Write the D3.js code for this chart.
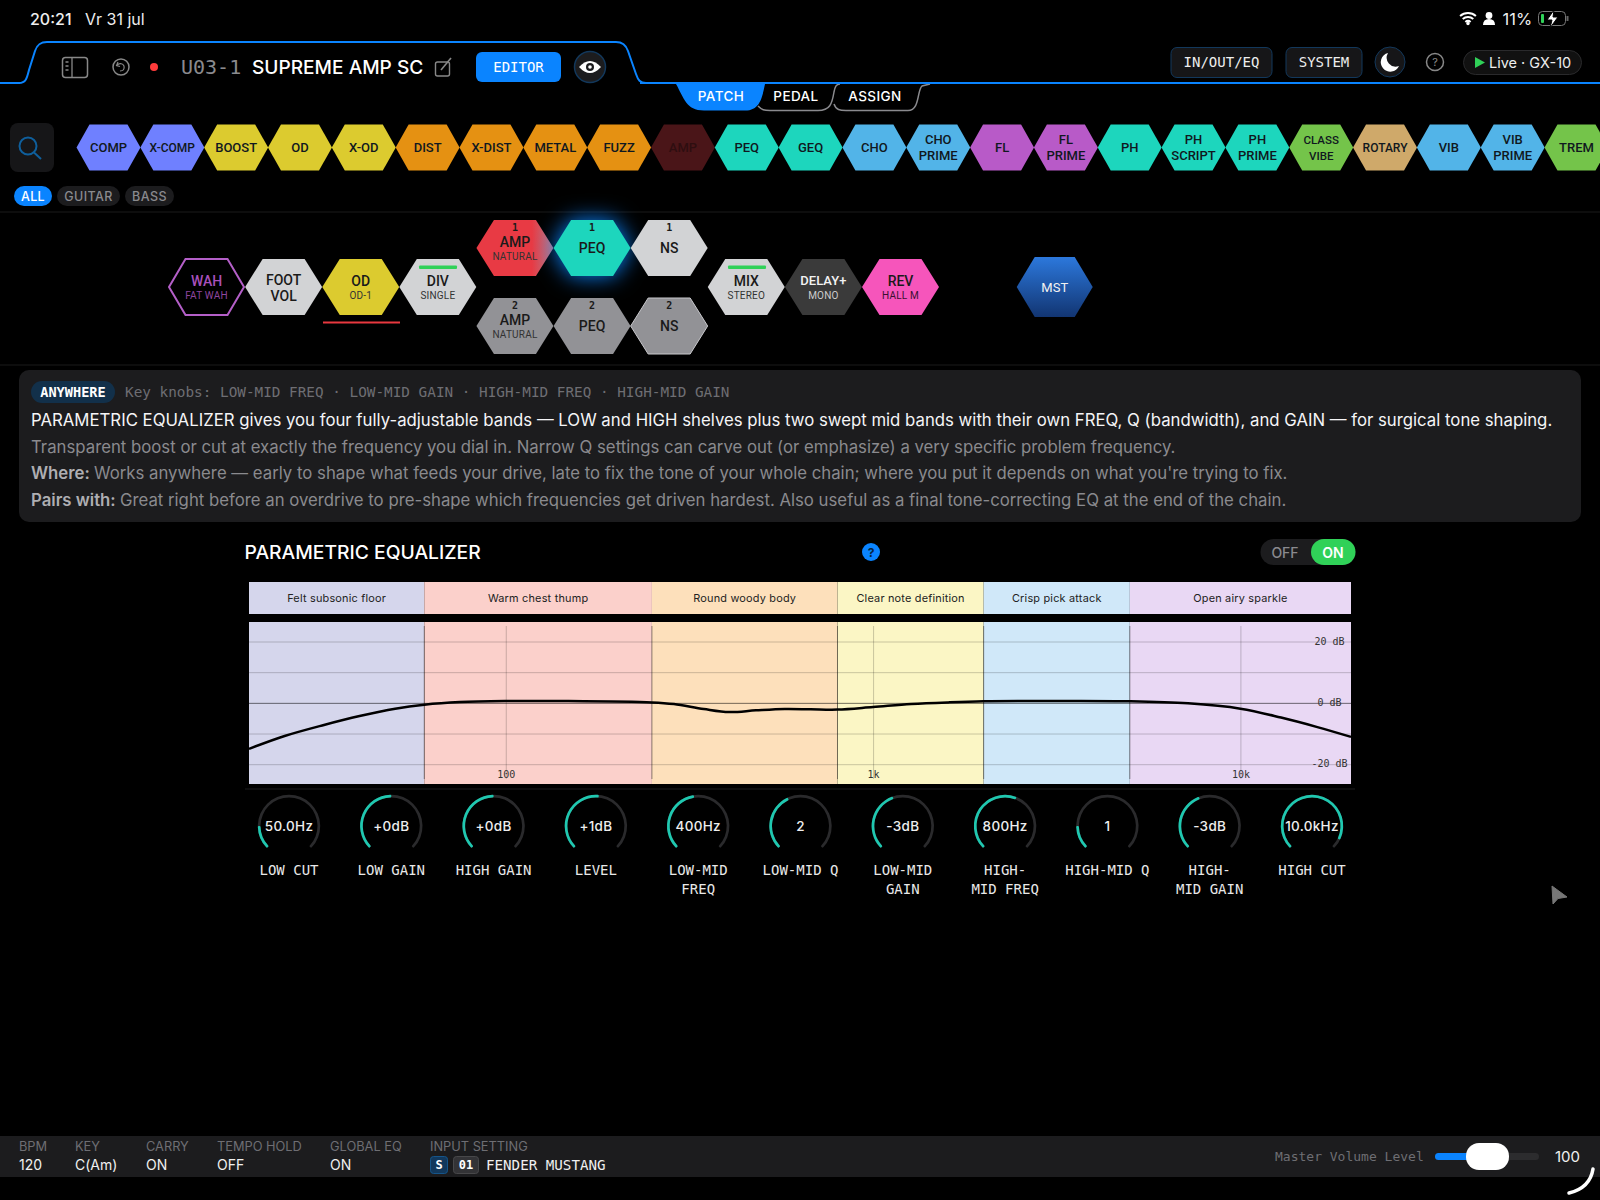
<!DOCTYPE html>
<html>
<head>
<meta charset="utf-8">
<title>Parametric equalizer</title>
<script src="https://d3js.org/d3.v7.min.js"></script>
<style>
    html, body { margin: 0; background: #000; }
    svg { display: block; }
    text { font-family: Inter, sans-serif; dominant-baseline: central; }
    .mono { font-family: "DejaVu Sans Mono", monospace; }
    .hex { font-family: Roboto, sans-serif; font-weight: 500; }
    .eq-axis path { display: none; }
    .eq-axis line { stroke: #000; stroke-opacity: 0.2; }
    .eq-axis text { font-family: "DejaVu Sans Mono", monospace; font-size: 10px; fill: #333; }
</style>
</head>
<body>
<svg id="app" width="1600" height="1200"></svg>
<script>
// module palette
const paletteNames = ["COMP","X-COMP","BOOST","OD","X-OD","DIST","X-DIST","METAL","FUZZ","AMP","PEQ","GEQ","CHO","CHO PRIME","FL","FL PRIME","PH","PH SCRIPT","PH PRIME","CLASS VIBE","ROTARY","VIB","VIB PRIME","TREM"];
const paletteColors = ["#6f80ff","#6f80ff","#dccb2f","#dccb2f","#dccb2f","#e59112","#e59112","#e59112","#e59112","#4a1518","#1dd6bd","#1dd6bd","#52b4e8","#52b4e8","#b85ac8","#b85ac8","#1dd6bd","#1dd6bd","#1dd6bd","#74c44a","#cfa96a","#52b4e8","#52b4e8","#74c44a"];

// signal chain
const chainNames = ["WAH","FOOT VOL","OD","DIV","AMP","PEQ","NS","AMP","PEQ","NS","MIX","DELAY+","REV","MST"];
const chainSubs = ["FAT WAH","","OD-1","SINGLE","NATURAL","","","NATURAL","","","STEREO","MONO","HALL M",""];
const chainNums = ["","","","","1","1","1","2","2","2","","","",""];
const chainSlots = [0,1,2,3,4,5,6,4,5,6,7,8,9,11];
const chainRows = [0,0,0,0,-1,-1,-1,1,1,1,0,0,0,0];
const chainFills = ["none","#d2d3d5","#dccb2f","#d2d3d5","url(#ampFade)","#1dd6bd","#d2d3d5","#929296","#929296","#929296","#d2d3d5","#3a3a3a","#f655bb","url(#mstFade)"];

// info panel
const infoKnobs = "Key knobs: LOW-MID FREQ · LOW-MID GAIN · HIGH-MID FREQ · HIGH-MID GAIN";
const infoLead = "PARAMETRIC EQUALIZER gives you four fully-adjustable bands — LOW and HIGH shelves plus two swept mid bands with their own FREQ, Q (bandwidth), and GAIN — for surgical tone shaping.";
const infoBody = "Transparent boost or cut at exactly the frequency you dial in. Narrow Q settings can carve out (or emphasize) a very specific problem frequency.";
const infoWhere = "Works anywhere — early to shape what feeds your drive, late to fix the tone of your whole chain; where you put it depends on what you're trying to fix.";
const infoPairs = "Great right before an overdrive to pre-shape which frequencies get driven hardest. Also useful as a final tone-correcting EQ at the end of the chain.";

// EQ chart
const bandNames = ["Felt subsonic floor","Warm chest thump","Round woody body","Clear note definition","Crisp pick attack","Open airy sparkle"];
const bandEdges = [20,60,250,800,2000,5000,20000];
const bandColors = ["#d5d6ec","#fbd0cb","#fde0bb","#fbf6c5","#d0e8f9","#e9d8f4"];
const curveFreq = [20,25,32,40,50,60,75,100,143,250,287,346,406,480,575,676,800,1000,1270,1600,2000,3200,5000,7200,10000,12900,16200,20000];
const curveDb = [-15,-10.8,-7.2,-4.3,-1.9,-0.6,0.26,0.6,0.6,0.15,-0.4,-2,-3,-2.45,-2,-2.1,-2.2,-1.37,-0.4,0.15,0.5,0.6,0.5,-0.17,-1.9,-4.8,-7.9,-11.1];
const freqTicks = [100,1000,10000];
const freqTickLabels = ["100","1k","10k"];
const dbTicks = [20,10,0,-10,-20];
const dbTickLabels = ["20 dB","","0 dB","","-20 dB"];

// knobs
const knobValues = ["50.0Hz","+0dB","+0dB","+1dB","400Hz","2","-3dB","800Hz","1","-3dB","10.0kHz"];
const knobLabels = [["LOW CUT"],["LOW GAIN"],["HIGH GAIN"],["LEVEL"],["LOW-MID","FREQ"],["LOW-MID Q"],["LOW-MID","GAIN"],["HIGH-","MID FREQ"],["HIGH-MID Q"],["HIGH-","MID GAIN"],["HIGH CUT"]];
const knobPositions = [0.167,0.5,0.5,0.52,0.47,0.41,0.43,0.58,0.167,0.425,0.93];

// footer
const footerLabels = ["BPM","KEY","CARRY","TEMPO HOLD","GLOBAL EQ"];
const footerValues = ["120","C(Am)","ON","OFF","ON"];
const footerX = [19,75,146,217,330];

const svg = d3.select("#app");
const BLUE = "#0a84ff";

const defs = svg.append("defs");
const ampFade = defs.append("linearGradient").attr("id", "ampFade");
ampFade.append("stop").attr("offset", "72%").attr("stop-color", "#e83a44");
ampFade.append("stop").attr("offset", "100%").attr("stop-color", "#b87a88");
const mstFade = defs.append("linearGradient").attr("id", "mstFade").attr("x2", 0).attr("y2", 1);
mstFade.append("stop").attr("offset", "0%").attr("stop-color", "#2c78dc");
mstFade.append("stop").attr("offset", "100%").attr("stop-color", "#123572");

function txt(parent, x, y, s, o) {
    o = o || {};
    return parent.append("text").attr("x", x).attr("y", y).text(s)
        .attr("class", o.cls || null)
        .attr("text-anchor", o.anchor || "start")
        .attr("fill", o.fill || "#fff")
        .attr("font-size", o.size || 14)
        .attr("font-weight", o.weight || 400)
        .attr("letter-spacing", o.ls || null);
}
function box(parent, x, y, w, h, r, fill, stroke) {
    return parent.append("rect").attr("x", x).attr("y", y).attr("width", w).attr("height", h)
        .attr("rx", r).attr("fill", fill).attr("stroke", stroke || "none");
}
// flat topped hexagon, w/h are the full size, top is half the flat edge
function hexPoints(w, h, top) {
    return [[-w/2,0],[-top,-h/2],[top,-h/2],[w/2,0],[top,h/2],[-top,h/2]].join(" ");
}

// ---- status bar
txt(svg, 30, 19, "20:21", {size: 16, weight: 500, fill: "#eee"});
txt(svg, 85, 19, "Vr 31 jul", {size: 16, fill: "#eee"});
txt(svg, 1502.5, 19, "11%", {size: 16.5, fill: "#eee"});
const wifi = svg.append("g").attr("transform", "translate(1468,25)");
[13, 9, 5].forEach(r => wifi.append("path")
    .attr("d", d3.arc()({innerRadius: r - 2, outerRadius: r, startAngle: -0.72, endAngle: 0.72}))
    .attr("fill", "#fff"));
wifi.append("circle").attr("cy", -1.5).attr("r", 1.7).attr("fill", "#fff");
svg.append("circle").attr("cx", 1489).attr("cy", 15.5).attr("r", 3.4).attr("fill", "#fff");
svg.append("path").attr("d", "M1483 25 q0 -6 6 -6 q6 0 6 6 z").attr("fill", "#fff");
box(svg, 1538.5, 11.5, 27, 14, 4, "none", "#777");
box(svg, 1541, 14, 3, 9, 1, "#30d158");
svg.append("path").attr("d", "M1554 10 l-7 10 h5 l-2 8 l8 -11 h-5 z").attr("fill", "#fff").attr("stroke", "#000");
svg.append("path").attr("d", "M1567.5 16 v5").attr("stroke", "#666").attr("stroke-width", 2);

// ---- header tab
svg.append("path")
    .attr("d", "M0 83 H19 C26 83 27 78 29 70 L35 51 C37 45 40 42 47 42 H616 C622 42 626 45 628 51 L636 74 C638 80 640 83 646 83 H1600")
    .attr("fill", "none").attr("stroke", BLUE).attr("stroke-width", 2);

box(svg, 62.5, 57.5, 25, 20, 3, "none", "#888").attr("stroke-width", 1.5);
svg.append("path").attr("d", "M72 58 V77 M65.5 62 h3 M65.5 66 h3 M65.5 70 h3").attr("stroke", "#888").attr("stroke-width", 1.3);
svg.append("circle").attr("cx", 121).attr("cy", 67).attr("r", 8).attr("fill", "none").attr("stroke", "#888").attr("stroke-width", 1.5);
svg.append("path").attr("d", "M118 62 l-1.5 3.5 l3.5 1 M117 65 q5 -3 7 1 q1 5 -4 5").attr("fill", "none").attr("stroke", "#888").attr("stroke-width", 1.2);
svg.append("circle").attr("cx", 154).attr("cy", 67).attr("r", 4).attr("fill", "#ff3b3b");
txt(svg, 181, 67, "U03-1", {cls: "mono", size: 20, fill: "#8a8a8e"});
txt(svg, 252, 67, "SUPREME AMP SC", {size: 19.1, weight: 500});
box(svg, 435.5, 62, 14, 14, 2, "none", "#888").attr("stroke-width", 1.4);
svg.append("path").attr("d", "M441 70 L451 58").attr("stroke", "#888").attr("stroke-width", 1.6);
box(svg, 476, 52, 85, 30, 6, BLUE);
txt(svg, 518.5, 67, "EDITOR", {cls: "mono", size: 14, anchor: "middle", weight: 500});
svg.append("circle").attr("cx", 590).attr("cy", 67).attr("r", 15.5).attr("fill", "#1c1c1e").attr("stroke", "#12385c").attr("stroke-width", 1.5);
svg.append("path").attr("d", "M579 67 Q590 55 601 67 Q590 79 579 67 Z").attr("fill", "#fff");
svg.append("circle").attr("cx", 590).attr("cy", 67).attr("r", 4).attr("fill", "#1c1c1e");
svg.append("circle").attr("cx", 590).attr("cy", 67).attr("r", 1.8).attr("fill", "#fff");

box(svg, 1171, 47.5, 101, 30, 6, "#161618", "#12385c");
txt(svg, 1221.5, 62, "IN/OUT/EQ", {cls: "mono", size: 14, anchor: "middle", fill: "#eee"});
box(svg, 1286, 47.5, 76, 30, 6, "#161618", "#12385c");
txt(svg, 1324, 62, "SYSTEM", {cls: "mono", size: 14, anchor: "middle", fill: "#eee"});
svg.append("circle").attr("cx", 1390).attr("cy", 62).attr("r", 15).attr("fill", "#161618").attr("stroke", "#12385c");
svg.append("path").attr("d", "M1388 53 A9.5 9.5 0 1 0 1399 66 A9 9 0 0 1 1388 53 Z").attr("fill", "#fff");
svg.append("circle").attr("cx", 1435).attr("cy", 62).attr("r", 8.5).attr("fill", "none").attr("stroke", "#888").attr("stroke-width", 1.5);
txt(svg, 1435, 62, "?", {size: 11, anchor: "middle", fill: "#888"});
box(svg, 1463.5, 50.5, 118, 24, 12, "#111", "#2a2a2c");
svg.append("path").attr("d", "M1475 57 L1485 62.5 L1475 68 Z").attr("fill", "#30d158");
txt(svg, 1489, 62, "Live · GX-10", {size: 14.5, fill: "#eee"});

// ---- page tabs
svg.append("path").attr("d", "M758 106 C762 110 764 110.5 770 110.5 H818 C830 110.5 832 104 834 92 C835 87 836 84 840 84 M834 104 C836 110 840 110.5 846 110.5 H908 C920 110.5 917 90 922 86 L930 84")
    .attr("fill", "none").attr("stroke", "#8a8a8e").attr("stroke-width", 1.5);
svg.append("path").attr("d", "M676 84 H765 C762 98 760 110.5 745 110.5 H704 C686 110.5 684 98 676 84 Z").attr("fill", BLUE);
txt(svg, 721, 96, "PATCH", {size: 13.5, weight: 500, anchor: "middle", ls: 0.4});
txt(svg, 796, 96, "PEDAL", {size: 13.5, weight: 500, anchor: "middle", ls: 0.4});
txt(svg, 875, 96, "ASSIGN", {size: 13.5, weight: 500, anchor: "middle", ls: 0.4});
svg.append("line").attr("x1", 0).attr("x2", 20).attr("y1", 83).attr("y2", 83).attr("stroke", BLUE).attr("stroke-width", 2);
svg.append("line").attr("x1", 640).attr("x2", 1600).attr("y1", 83).attr("y2", 83).attr("stroke", BLUE).attr("stroke-width", 2);

// ---- palette
box(svg, 10, 123, 44, 49, 8, "#161618");
svg.append("circle").attr("cx", 28).attr("cy", 146).attr("r", 8.5).attr("fill", "none").attr("stroke", "#0f5f9c").attr("stroke-width", 2);
svg.append("line").attr("x1", 34).attr("y1", 152.5).attr("x2", 41).attr("y2", 159).attr("stroke", "#0f5f9c").attr("stroke-width", 2);

const paletteX = d3.scaleLinear().domain([0, paletteNames.length - 1]).range([108.5, 1576.5]);
const palette = svg.append("g").selectAll("g").data(paletteNames).join("g")
    .attr("transform", (d, i) => `translate(${paletteX(i)},147.5)`);
palette.append("polygon").attr("points", hexPoints(64, 46, 19))
    .attr("fill", (d, i) => paletteColors[i]);
palette.each(function(d, i) {
    const g = d3.select(this);
    const parts = d.split(" ");
    const size = d == "CLASS VIBE" ? 11.5 : (d == "ROTARY" || d == "X-COMP" ? 12 : 13);
    const fill = d == "AMP" ? "#2e0e10" : "#101820";
    if (parts.length == 2) {
        txt(g, 0, -8, parts[0], {cls: "hex", size: size, anchor: "middle", fill: fill});
        txt(g, 0, 8, parts[1], {cls: "hex", size: size, anchor: "middle", fill: fill});
    } else {
        txt(g, 0, 0, d, {cls: "hex", size: size, anchor: "middle", fill: fill});
    }
});

// filter pills
[["ALL",14,38,BLUE,"#fff"],["GUITAR",57,63,"#1c1c1e","#8a8a8e"],["BASS",125,49,"#1c1c1e","#8a8a8e"]].forEach(p => {
    box(svg, p[1], 186, p[2], 20, 10, p[3]);
    txt(svg, p[1] + p[2]/2, 196, p[0], {size: 12.5, weight: 500, anchor: "middle", fill: p[4], ls: 0.4});
});
svg.append("line").attr("x1", 0).attr("x2", 1600).attr("y1", 212).attr("y2", 212).attr("stroke", "#1a1a1a");

// ---- signal chain
const slotX = d3.scaleLinear().domain([0, 9]).range([206.5, 900.5]);
const rowY = d3.scaleLinear().domain([-1, 1]).range([248, 326]);
const chain = svg.append("g").selectAll("g").data(chainNames).join("g")
    .attr("transform", (d, i) => `translate(${slotX(chainSlots[i])},${rowY(chainRows[i])})`);
chain.append("polygon")
    .attr("points", (d, i) => i == 13 ? hexPoints(76, 60, 20) : hexPoints(i == 0 ? 75 : 77, 56, 21))
    .attr("fill", (d, i) => chainFills[i])
    .attr("stroke", (d, i) => i == 0 ? "#b45fc8" : (i == 9 ? "#c8c8cc" : "none"))
    .attr("stroke-width", (d, i) => i == 0 ? 2 : 1)
    .style("filter", (d, i) => i == 5 ? "drop-shadow(0 0 11px " + BLUE + ")" : null);
chain.each(function(d, i) {
    const g = d3.select(this);
    const fill = i == 0 ? "#a850bc" : (i == 11 || i == 13 ? "#f2f2f2" : "#1a1a1a");
    const subFill = i == 0 ? "#8f469f" : (i == 11 ? "#ccc" : (i == 12 ? "#3a1030" : "#333"));
    if (chainNums[i]) txt(g, 0, -21, chainNums[i], {cls: "mono", size: 10, weight: 700, anchor: "middle", fill: "#1a1a1a"});
    if (d == "FOOT VOL") {
        txt(g, 0, -7, "FOOT", {cls: "hex", size: 14, anchor: "middle", fill: fill});
        txt(g, 0, 9, "VOL", {cls: "hex", size: 14, anchor: "middle", fill: fill});
    } else if (chainSubs[i]) {
        txt(g, 0, -6.5, d, {cls: "hex", size: i == 11 ? 13 : 14, anchor: "middle", fill: fill});
        txt(g, 0, 8, chainSubs[i], {cls: "hex", size: 10, anchor: "middle", fill: subFill}).style("font-weight", 400).attr("letter-spacing", 0.2);
    } else {
        txt(g, 0, 0, d, {cls: "hex", size: i == 13 ? 13 : 14, anchor: "middle", fill: fill}).style("font-weight", i == 13 ? 400 : 500);
    }
});
box(svg, 419, 265.5, 38, 3.5, 1, "#30d158");
box(svg, 728, 265.5, 38, 3.5, 1, "#30d158");
box(svg, 323, 321.5, 77, 2, 0, "#e8383f");
svg.append("line").attr("x1", 0).attr("x2", 1600).attr("y1", 365).attr("y2", 365).attr("stroke", "#1a1a1a");

// ---- info panel
box(svg, 19, 370, 1562, 152, 10, "#1c1c1e");
box(svg, 31, 381, 84, 22, 11, "#12304a");
txt(svg, 73, 392, "ANYWHERE", {cls: "mono", size: 13.6, weight: 700, anchor: "middle"});
txt(svg, 125, 392, infoKnobs, {cls: "mono", size: 14.35, fill: "#6e6e73"});
txt(svg, 31, 419.5, infoLead, {size: 16.75, fill: "#f5f5f7"});
txt(svg, 31, 446.5, infoBody, {size: 16.75, fill: "#8a8a8e"});
const whereLine = txt(svg, 31, 473, "", {size: 16.75, fill: "#8a8a8e"});
whereLine.append("tspan").attr("font-weight", 600).attr("fill", "#aeaeb2").text("Where: ");
whereLine.append("tspan").text(infoWhere);
const pairsLine = txt(svg, 31, 499.5, "", {size: 16.75, fill: "#8a8a8e"});
pairsLine.append("tspan").attr("font-weight", 600).attr("fill", "#aeaeb2").text("Pairs with: ");
pairsLine.append("tspan").text(infoPairs);

// ---- EQ header
txt(svg, 244.5, 552, "PARAMETRIC EQUALIZER", {size: 19.3, weight: 500});
svg.append("circle").attr("cx", 871).attr("cy", 552).attr("r", 9).attr("fill", BLUE);
txt(svg, 871, 552, "?", {size: 12, weight: 700, anchor: "middle", fill: "#06223f"});
box(svg, 1260.5, 539, 95, 26, 13, "#1c1c1e");
box(svg, 1311, 539, 44.5, 26, 13, "#30d158");
txt(svg, 1285, 552, "OFF", {size: 14, weight: 500, anchor: "middle", fill: "#8a8a8e"});
txt(svg, 1333, 552, "ON", {size: 14, weight: 600, anchor: "middle"});

// ---- EQ chart
const chartTop = 622, chartBottom = 784;
const x = d3.scaleLog().domain([20, 20000]).range([249, 1351]);
const y = d3.scaleLinear().domain([20, -20]).range([641.5, 764.2]);

const bands = d3.range(bandNames.length);
const strip = svg.append("g");
strip.selectAll("rect").data(bands).join("rect")
    .attr("x", i => x(bandEdges[i])).attr("width", i => x(bandEdges[i + 1]) - x(bandEdges[i]))
    .attr("y", 582).attr("height", 32)
    .attr("fill", i => bandColors[i]);
strip.selectAll("text").data(bands).join("text")
    .attr("x", i => (x(bandEdges[i]) + x(bandEdges[i + 1])) / 2).attr("y", 598)
    .attr("text-anchor", "middle").attr("font-size", 10.9).attr("fill", "#222").attr("letter-spacing", 0.2)
    .text(i => bandNames[i]);

const plot = svg.append("g");
plot.selectAll("rect").data(bands).join("rect")
    .attr("x", i => x(bandEdges[i])).attr("width", i => x(bandEdges[i + 1]) - x(bandEdges[i]))
    .attr("y", chartTop).attr("height", chartBottom - chartTop)
    .attr("fill", i => bandColors[i]);

// horizontal grid + dB labels
const yAxis = d3.axisRight(y).tickValues(dbTicks).tickSize(1351 - 249)
    .tickFormat((d, i) => dbTickLabels[i]);
const yG = svg.append("g").attr("class", "eq-axis").attr("transform", "translate(249,0)").call(yAxis);
yG.selectAll("text").attr("x", 1329.5 - 249).attr("y", -1).attr("text-anchor", "middle").attr("dy", 0);
yG.selectAll("line").filter(d => d == 0).style("stroke-opacity", 0.55);

// decade lines + frequency labels
const xAxis = d3.axisBottom(x).tickValues(freqTicks).tickSize(626 - 779)
    .tickFormat((d, i) => freqTickLabels[i]);
const xG = svg.append("g").attr("class", "eq-axis").attr("transform", "translate(0,779)").call(xAxis);
xG.selectAll("text").attr("y", -5).attr("dy", 0);

// band separators
svg.append("g").selectAll("line").data(bandEdges.slice(1, -1)).join("line")
    .attr("x1", d => x(d)).attr("x2", d => x(d)).attr("y1", 626).attr("y2", 779)
    .attr("stroke", "#000").attr("stroke-opacity", 0.42);

const curve = d3.line().x((d, i) => x(d)).y((d, i) => y(curveDb[i])).curve(d3.curveCatmullRom.alpha(0.5));
svg.append("path").attr("d", curve(curveFreq)).attr("fill", "none")
    .attr("stroke", "#000").attr("stroke-width", 2.5);

svg.append("line").attr("x1", 245).attr("x2", 1355).attr("y1", 789).attr("y2", 789).attr("stroke", "#1c1c1e");

// ---- knobs
const knobX = d3.scaleLinear().domain([0, knobValues.length - 1]).range([289, 1312]);
const knobAngle = d3.scaleLinear().domain([0, 1]).range([-135, 135].map(d => d * Math.PI / 180));
const knobArc = d3.arc().innerRadius(28.5).outerRadius(31.2).cornerRadius(1);
const knobs = svg.append("g").selectAll("g").data(knobValues).join("g")
    .attr("transform", (d, i) => `translate(${knobX(i)},826)`);
knobs.append("path").attr("fill", "#2a2a2c")
    .attr("d", knobArc({startAngle: knobAngle(0), endAngle: knobAngle(1)}));
knobs.append("path").attr("fill", "#1fc8b0")
    .attr("d", (d, i) => knobArc({startAngle: knobAngle(0), endAngle: knobAngle(knobPositions[i])}));
knobs.append("text").attr("text-anchor", "middle").attr("font-size", 13.5).attr("font-weight", 500)
    .attr("letter-spacing", 0.3).attr("fill", "#eee").text(d => d);
knobs.each(function(d, i) {
    const g = d3.select(this);
    knobLabels[i].forEach((s, j) => txt(g, 0, 44 + j * 18.7, s, {cls: "mono", size: 14, anchor: "middle", fill: "#e8e8e8"}));
});

// ---- cursor + footer
svg.append("path").attr("d", "M1552 886 L1567 897 L1558 898.5 L1553 904 Z").attr("fill", "#777").attr("stroke", "#777").attr("stroke-linejoin", "round");

box(svg, 0, 1136, 1600, 41, 0, "#1c1c1e");
footerLabels.forEach((s, i) => {
    txt(svg, footerX[i], 1146, s, {size: 12.8, fill: "#6e6e73"});
    txt(svg, footerX[i], 1164.5, footerValues[i], {size: 14, fill: "#f0f0f0"});
});
txt(svg, 430, 1146, "INPUT SETTING", {size: 12.8, fill: "#6e6e73"});
box(svg, 430.5, 1156.5, 17, 17, 3, "#12385c", "#15558a");
txt(svg, 439, 1165, "S", {cls: "mono", size: 12, weight: 700, anchor: "middle"});
box(svg, 453.5, 1156.5, 25, 17, 3, "#333336", "#48484a");
txt(svg, 466, 1165, "01", {cls: "mono", size: 12, weight: 700, anchor: "middle"});
txt(svg, 486, 1164.5, "FENDER MUSTANG", {cls: "mono", size: 14.2, fill: "#f0f0f0"});
txt(svg, 1275, 1156, "Master Volume Level", {cls: "mono", size: 13, fill: "#6e6e73"});
box(svg, 1435, 1153, 104, 7, 3.5, "#2c2c2e");
box(svg, 1435, 1153, 36, 7, 3.5, BLUE);
box(svg, 1466, 1143, 43, 27, 13, "#fff");
txt(svg, 1555, 1156, "100", {size: 15, fill: "#f0f0f0"});
svg.append("path").attr("d", "M1593 1169 Q1590 1188 1569 1193").attr("fill", "none").attr("stroke", "#fff").attr("stroke-width", 3.5).attr("stroke-linecap", "round");
</script>
</body>
</html>
